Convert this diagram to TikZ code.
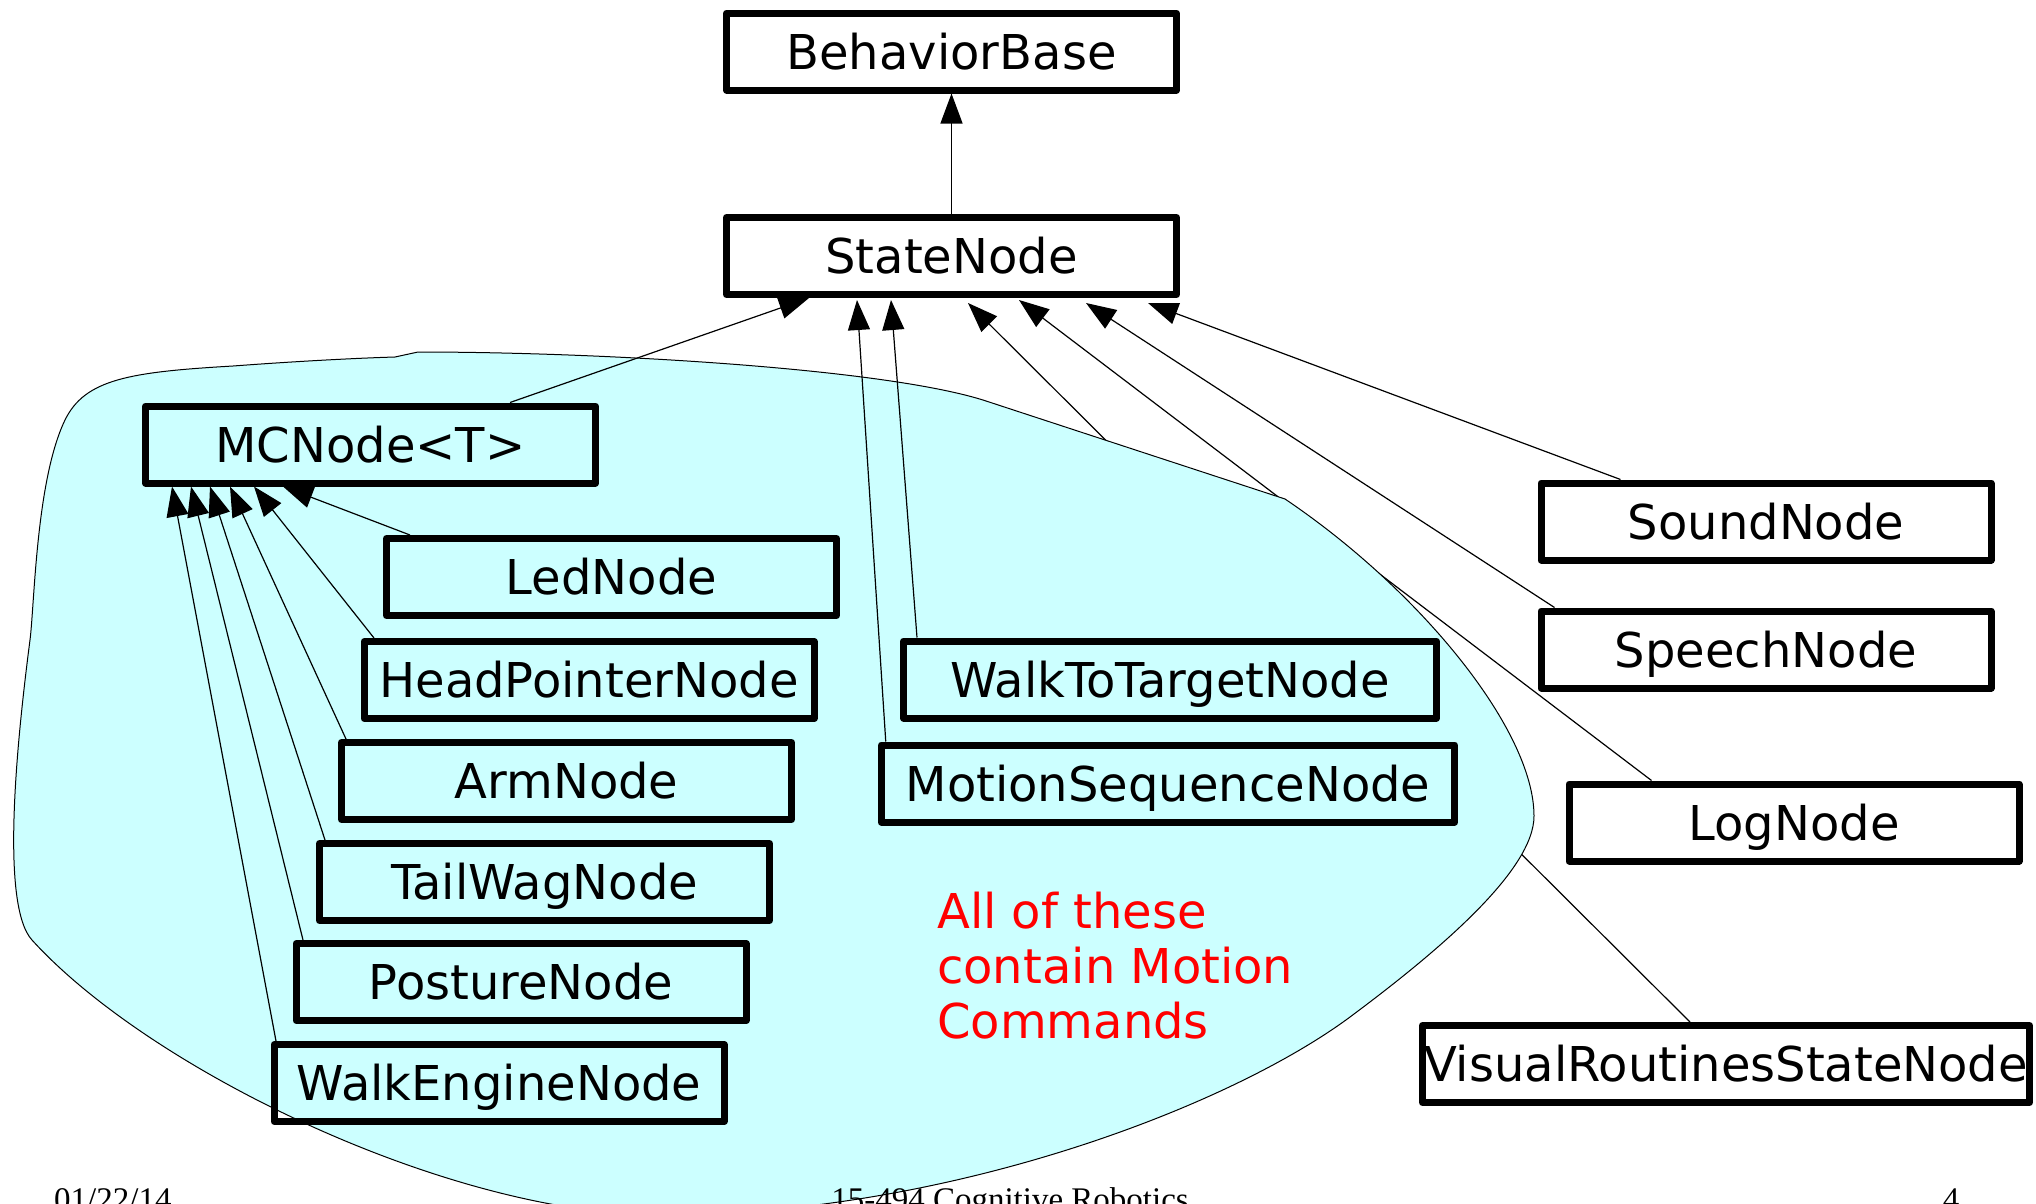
\documentclass[tikz,border=0pt]{standalone}
\usepackage{fontspec}
\setmainfont{DejaVu Sans}
\newfontfamily\footfont{Liberation Serif}
\usetikzlibrary{positioning}
\usetikzlibrary{arrows.meta}
\definecolor{blobcyan}{HTML}{CCFFFF}

\begin{document}
\begin{tikzpicture}[%
			x=1pt, y=-1pt,
			every node/.style={font=\fontsize{48}{55}\selectfont},
			classbox/.style={draw, line width=7pt, line join=round, minimum width=450pt, minimum height=77pt, inner sep=0pt, text height=35pt, text depth=0pt},
			isa/.style={line width=1.2pt, -{Triangle[length=30pt, width=22pt]}},
			footer/.style={font=\footfont\fontsize{33}{40}\selectfont, inner sep=0pt}]
			\useasboundingbox (0,0) rectangle (2036,1203);
			\node[classbox](behaviorbase) at (951.5,51.5) {BehaviorBase};
			\node[classbox](statenode) at (951.5,256) {StateNode};
			\node[classbox](soundnode) at (1766,521.5) {SoundNode};
			\node[classbox, below=44pt of soundnode](speechnode) {SpeechNode};
			\node[classbox](lognode) at (1794,822.5) {LogNode};
			\node[classbox, minimum width=607pt](visualnode) at (1726,1064) {VisualRoutinesStateNode};
			\path[draw, isa] (statenode) -- (behaviorbase);
			\path[draw, isa] ([xshift=271pt]visualnode.north west) -- ([xshift=245pt, yshift=-5pt]statenode.south west);
			\path[draw, isa] ([xshift=86pt]lognode.north west) -- ([xshift=296pt, yshift=-2pt]statenode.south west);
			\path[draw, isa] ([xshift=17pt]speechnode.north west) -- ([xshift=363pt, yshift=-5pt]statenode.south west);
			\path[draw, isa] ([xshift=83pt]soundnode.north west) -- ([xshift=425pt, yshift=-5pt]statenode.south west);
			% the motion command group
			\path[draw, line width=1pt, fill=blobcyan] (418,352)
				.. controls (600,352) and (880,368) .. (983,400) -- (1285,499)
				.. controls (1420,590) and (1534,730) .. (1534,816)
				.. controls (1534,870) and (1440,950) .. (1350,1017)
				.. controls (1230,1106) and (950,1215) .. (660,1215)
				.. controls (450,1215) and (150,1070) .. (32,940)
				.. controls (0,905) and (17,740) .. (30,640)
				.. controls (34.5,605) and (36,480) .. (65,420)
				.. controls (85,379) and (130,372) .. (233,366)
				.. controls (300,361) and (360,358) .. (395,357) -- cycle;
			\node[classbox](mcnode) at (370.5,444.5) {MCNode<T>};
			\node[classbox](lednode) at (611.5,577) {LedNode};
			\node[classbox](headnode) at (589,680) {HeadPointerNode};
			\node[classbox](armnode) at (566.5,781) {ArmNode};
			\node[classbox](tailnode) at (544.5,882) {TailWagNode};
			\node[classbox](posturenode) at (521,982) {PostureNode};
			\node[classbox](walkenginenode) at (499,1083) {WalkEngineNode};
			\node[classbox, minimum width=533pt](walktargetnode) at (1170,679.5) {WalkToTargetNode};
			\node[classbox, minimum width=573.5pt](motionseqnode) at (1168,783.5) {MotionSequenceNode};
			\path[draw, isa] ([xshift=368pt]mcnode.north west) -- ([xshift=86pt]statenode.south west);
			\path[draw, isa] ([xshift=8pt]motionseqnode.north west) -- ([xshift=134pt, yshift=-2pt]statenode.south west);
			\path[draw, isa] ([xshift=17pt]walktargetnode.north west) -- ([xshift=168pt, yshift=-2pt]statenode.south west);
			\path[draw, isa] ([xshift=27pt]lednode.north west) -- ([xshift=141pt]mcnode.south west);
			\path[draw, isa] ([xshift=13.5pt]headnode.north west) -- ([xshift=112pt]mcnode.south west);
			\path[draw, isa] ([xshift=8pt]armnode.north west) -- ([xshift=88pt]mcnode.south west);
			\path[draw, isa] ([xshift=9pt]tailnode.north west) -- ([xshift=68pt]mcnode.south west);
			\path[draw, isa] ([xshift=10.5pt]posturenode.north west) -- ([xshift=49pt]mcnode.south west);
			\path[draw, isa] ([xshift=5.5pt]walkenginenode.north west) -- ([xshift=30pt]mcnode.south west);
			\node[anchor=north west, align=left, text=red, inner sep=0pt](note) at (937,891.5) {All of these\\contain Motion\\Commands};
			% slide footer
			\node[footer, anchor=base west](date) at (54,1210) {01/22/14};
			\node[footer, anchor=base](course) at (1010,1210) {15-494 Cognitive Robotics};
			\node[footer, anchor=base](page) at (1951,1210) {4};
	\end{tikzpicture}
\end{document}
